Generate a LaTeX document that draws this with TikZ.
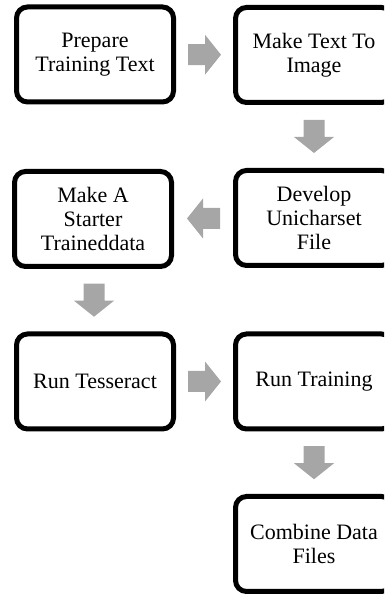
\documentclass[tikz,border=0pt]{standalone}
\usepackage{fontspec}
\setmainfont{Liberation Serif}
\usetikzlibrary{calc}
\definecolor{arrowgray}{HTML}{A6A6A6}
\begin{document}
\begin{tikzpicture}[x=1pt,y=1pt,
  stepbox/.style={draw=black, line width=5pt, rounded corners=11pt, fill=white,
    minimum width=157pt, minimum height=95pt, align=center, inner sep=2pt,
    font=\fontsize{22}{24}\selectfont},
  blockarrow/.pic={\fill[arrowgray] (-16.5,-10.5) -- (0.5,-10.5) -- (0.5,-20) -- (16.5,0)
     -- (0.5,20) -- (0.5,10.5) -- (-16.5,10.5) -- cycle;}
]
\useasboundingbox (0,0) rectangle (384,596);
\clip (0,0) rectangle (384,596);
\node[stepbox] (b1) at (95,541.5) {Prepare\\Training Text};
\node[stepbox] (b2) at (314,541) {Make Text To\\Image};
\node[stepbox] (b3) at (93,377) {Make A\\Starter\\Traineddata};
\node[stepbox] (b4) at (314,378) {Develop\\Unicharset\\File};
\node[stepbox] (b5) at (95,214.5) {Run Tesseract};
\node[stepbox] (b6) at (314,214.5) {Run Training};
\node[stepbox] (b7) at (314,52) {Combine Data\\Files};
\path ($(b1.east)!0.5!(b2.west)$) pic {blockarrow};
\path ($(b2.south)!0.5!(b4.north)$) pic[rotate=-90] {blockarrow};
\path ($(b4.west)!0.5!(b3.east)$) pic[rotate=180] {blockarrow};
\path ($(b3.south)!0.5!(b5.north)$) pic[rotate=-90] {blockarrow};
\path ($(b5.east)!0.5!(b6.west)$) pic {blockarrow};
\path ($(b6.south)!0.5!(b7.north)$) pic[rotate=-90] {blockarrow};
\end{tikzpicture}
\end{document}
